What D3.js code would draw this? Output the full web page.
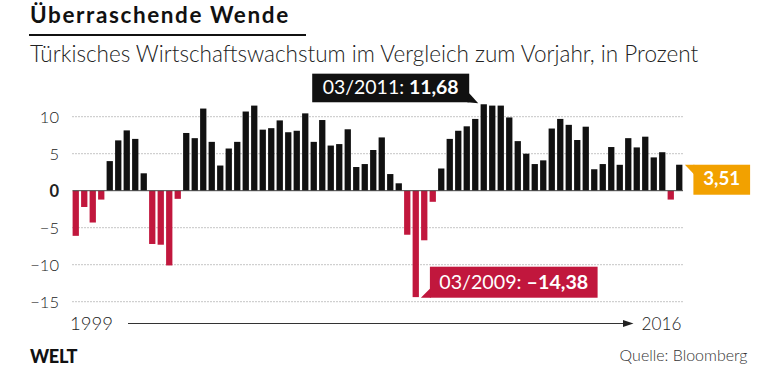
<!DOCTYPE html>
<html><head><meta charset="utf-8">
<script src="https://cdn.jsdelivr.net/npm/d3@7"></script>
<style>
html,body{margin:0;padding:0;background:#fff;}
svg{display:block;font-family:Lato,"Open Sans",sans-serif;}
</style></head>
<body><svg id="c" width="780" height="373"></svg>
<script>
// ---- data ----
const title = "Überraschende Wende";
const subtitle = "Türkisches Wirtschaftswachstum im Vergleich zum Vorjahr, in Prozent";
const startYear = "1999";
const endYear = "2016";
const source = "Quelle: Bloomberg";
const brand = "WELT";
// quarterly growth, 1999 Q1 ... 2016 Q4
const quarters = d3.range(72).map(i => (1999 + Math.floor(i / 4)) + "Q" + (i % 4 + 1));
const growth = [
  -6.1, -2.2, -4.3, -1.2,
   4.0,  6.8,  8.15, 7.0,
   2.35,-7.2, -7.3, -10.1,
  -1.1,  7.8,  7.1, 11.1,
   6.6,  3.4,  5.7,  6.6,
  10.7, 11.5,  8.25, 8.45,
   9.5,  7.9,  8.1, 10.45,
   6.6,  9.55, 6.1,  6.3,
   8.3,  3.2,  3.6,  5.5,
   7.2,  2.25, 1.0, -5.95,
 -14.38,-6.7, -1.5,  3.0,
   7.0,  8.1,  8.7,  9.7,
  11.68, 11.5, 11.5, 9.9,
   6.7,  5.0,  3.6,  4.1,
   8.4,  9.7,  8.9,  6.85,
   8.65, 2.9,  3.6,  5.9,
   3.5,  7.1,  5.85, 7.3,
   4.5,  5.2, -1.2,  3.51
];
const yTicks = [10, 5, 0, -5, -10, -15];
const maxLabel = {index: 48, date: "03/2011: ", value: "11,68"};
const minLabel = {index: 40, date: "03/2009: ", value: "\u201314,38"};
const lastLabel = {index: 71, value: "3,51"};

// ---- styles ----
const RED = "#c1173d", ORANGE = "#f2a100", BLACK = "#111";

const svg = d3.select("#c");
const x = d3.scaleBand().domain(d3.range(growth.length)).range([72.6, 682.4]).paddingInner(0.26).paddingOuter(0);
const y = d3.scaleLinear().domain([-15, 10]).range([301.7, 116.7]);
const fmtTick = d => d < 0 ? "\u2212" + Math.abs(d) : String(d);

function fit(sel, w) {
  const n = sel.node();
  const fs = parseFloat(sel.attr("font-size"));
  const l = n.getComputedTextLength();
  sel.attr("font-size", (fs * w / l).toFixed(2));
}
function spread(sel, w, maxLs) {
  const n = sel.node();
  const l = n.getComputedTextLength();
  const c = sel.text().length;
  const ls = Math.max(-1, Math.min(maxLs, (w - l) / c));
  sel.attr("letter-spacing", ls.toFixed(2));
}

// title
const t = svg.append("text").attr("x", 30).attr("y", 23).attr("font-size", 22.5).attr("font-weight", 700).attr("fill", BLACK).text(title);
spread(t, 275, 1.6);
svg.append("rect").attr("x", 29).attr("y", 34).attr("width", 277).attr("height", 2).attr("fill", BLACK);
const st = svg.append("text").attr("x", 30).attr("y", 62).attr("font-size", 19).attr("font-weight", 300).attr("fill", "#222").text(subtitle);
fit(st, 668);

// grid
const grid = svg.append("g");
grid.selectAll("line").data(yTicks.filter(d => d !== 0)).join("line")
  .attr("x1", 72.5).attr("x2", 683).attr("y1", d => y(d)).attr("y2", d => y(d))
  .attr("stroke", "#8a8a8a").attr("stroke-width", 1).attr("stroke-dasharray", "1 2");

// y axis labels
svg.append("g").selectAll("text").data(yTicks).join("text")
  .attr("x", 59).attr("y", d => y(d)).attr("dy", "0.36em").attr("text-anchor", "end")
  .attr("font-size", 16.5).attr("font-weight", d => d === 0 ? 700 : 300).attr("fill", "#222")
  .text(fmtTick);

// bars
svg.append("g").selectAll("rect").data(growth).join("rect")
  .attr("x", (d, i) => x(i)).attr("width", x.bandwidth())
  .attr("y", d => y(Math.max(0, d))).attr("height", d => Math.abs(y(d) - y(0)))
  .attr("fill", d => d < 0 ? RED : BLACK);

// zero line
svg.append("line").attr("x1", 72.5).attr("x2", 683).attr("y1", y(0)).attr("y2", y(0))
  .attr("stroke", "#444").attr("stroke-width", 1);

// max annotation (black)
{
  const bx = x(maxLabel.index), by = y(growth[maxLabel.index]);
  const right = bx - 11.4, bottom = by - 2, w = 157, h = 28.6;
  const g = svg.append("g");
  g.append("rect").attr("x", right - w).attr("y", bottom - h).attr("width", w).attr("height", h).attr("fill", BLACK);
  g.append("path").attr("d", `M${right},${bottom - 9}L${right + 9},${bottom + 1}L${right - 2},${bottom}Z`).attr("fill", BLACK);
  const tx = g.append("text").attr("x", right - w / 2).attr("y", bottom - 8).attr("text-anchor", "middle")
    .attr("font-size", 17).attr("fill", "#fff");
  tx.append("tspan").attr("font-weight", 400).text(maxLabel.date);
  tx.append("tspan").attr("font-weight", 700).text(maxLabel.value);
  fit(tx, 136);
}
// min annotation (red)
{
  const bx = x(minLabel.index) + x.bandwidth(), by = y(growth[minLabel.index]);
  const left = bx + 11, bottom = by + 0.6, w = 167.7, h = 31;
  const g = svg.append("g");
  g.append("rect").attr("x", left).attr("y", bottom - h).attr("width", w).attr("height", h).attr("fill", RED);
  g.append("path").attr("d", `M${left},${bottom - 9}L${left - 9},${bottom}L${left + 1},${bottom}Z`).attr("fill", RED);
  const tx = g.append("text").attr("x", left + w / 2).attr("y", bottom - 9).attr("text-anchor", "middle")
    .attr("font-size", 17).attr("fill", "#fff");
  tx.append("tspan").attr("font-weight", 400).text(minLabel.date);
  tx.append("tspan").attr("font-weight", 700).text(minLabel.value);
  fit(tx, 149);
}
// last value annotation (orange)
{
  const bx = x(lastLabel.index) + x.bandwidth(), by = y(growth[lastLabel.index]);
  const left = bx + 11, top = by, w = 56.7, h = 30;
  const g = svg.append("g");
  g.append("rect").attr("x", left).attr("y", top).attr("width", w).attr("height", h).attr("fill", ORANGE);
  g.append("path").attr("d", `M${left - 8.5},${top}L${left + 1},${top}L${left + 1},${top + 10}Z`).attr("fill", ORANGE);
  const tx = g.append("text").attr("x", left + w / 2).attr("y", top + 20.5).attr("text-anchor", "middle")
    .attr("font-size", 17).attr("font-weight", 700).attr("fill", "#fff").text(lastLabel.value);
  fit(tx, 37);
}

// time arrow
const t1 = svg.append("text").attr("x", 70).attr("y", 330).attr("font-size", 17).attr("font-weight", 300).attr("fill", "#222").text(startYear);
fit(t1, 43);
svg.append("line").attr("x1", 128).attr("x2", 625).attr("y1", 323.5).attr("y2", 323.5).attr("stroke", "#333").attr("stroke-width", 1.2);
svg.append("path").attr("d", "M623,320L633.5,323.5L623,327Z").attr("fill", "#222");
const t2 = svg.append("text").attr("x", 641.5).attr("y", 329.5).attr("font-size", 17).attr("font-weight", 300).attr("fill", "#222").text(endYear);
fit(t2, 40);

// footer
const b = svg.append("text").attr("x", 30).attr("y", 363).attr("font-size", 15).attr("font-weight", 900).attr("fill", BLACK).attr("letter-spacing", "-0.3").text(brand);
fit(b, 47);
const q = svg.append("text").attr("x", 747.5).attr("y", 360.5).attr("text-anchor", "end").attr("font-size", 14).attr("font-weight", 300).attr("fill", "#333").text(source);
fit(q, 128);
</script></body></html>
